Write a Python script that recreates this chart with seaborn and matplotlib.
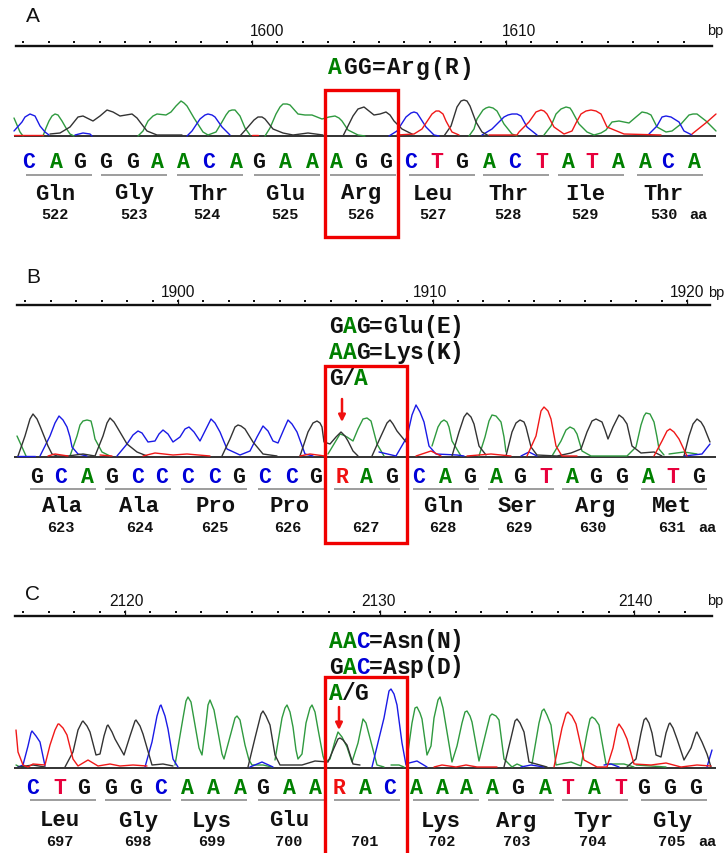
import numpy as np
import pandas as pd
import matplotlib
matplotlib.use("Agg")
import matplotlib.pyplot as plt
from matplotlib.patches import Rectangle
import seaborn as sns

# trace vertices: (scan position, signal height), one list per unbroken stretch
a_green = [
    [(14,18),(17,11),(20,4),(23,0)],
    [(43,0),(46,8),(49,15),(52,20),(55,22),(58,21),(62,15),(66,8),(70,2),(74,0)],
    [(138,0),(143,5),(148,15),(153,20),(157,22),(166,21),(171,24),(176,30),(181,35),(184,33),(187,30),(194,18),(203,4),(208,1),(216,4),(222,14),(226,21),(229,25),(232,26),(235,26),(240,20),(245,8),(250,1)],
    [(265,0),(270,8),(276,22),(280,29),(283,32),(287,32),(290,31),(298,22),(305,21),(312,21),(322,17),(329,19),(335,20),(339,18),(342,15),(348,6),(358,1),(365,0)],
    [(469,0),(474,7),(477,17),(483,26),(486,28),(489,29),(493,28),(497,25),(504,12),(512,2),(517,0)],
    [(544,1),(551,10),(556,22),(561,27),(566,29),(570,28),(572,25),(579,12),(587,4),(594,1),(601,3),(606,6),(612,14),(619,15),(629,13),(636,19),(642,24),(647,23),(651,21),(657,9),(666,4),(672,5),(681,12),(689,21),(693,22),(697,22),(706,15),(716,5)],
]
a_blue = [
    [(14,5),(22,14),(25,19),(30,22),(35,20),(40,10),(45,4),(49,1)],
    [(75,1),(83,3),(90,2),(92,0)],
    [(187,0),(192,5),(200,17),(205,21),(208,22),(212,21),(215,19),(222,9),(230,1)],
    [(389,0),(397,5),(406,19),(411,23),(414,24),(417,23),(419,20),(426,9),(434,1),(439,0)],
    [(482,1),(492,7),(504,19),(508,21),(512,22),(517,22),(521,20),(527,9),(537,1)],
    [(649,2),(657,10),(662,19),(666,20),(671,19),(679,14),(684,5),(692,1)],
]
a_black = [
    [(50,2),(60,3),(70,9),(78,19),(83,20),(93,15),(100,20),(107,26),(113,24),(120,20),(126,21),(132,22),(137,18),(140,14),(147,5),(157,1),(182,1)],
    [(240,0),(248,9),(254,16),(258,19),(262,19),(265,17),(273,7),(283,3),(293,1),(308,3),(323,1)],
    [(343,0),(353,20),(358,27),(364,29),(369,25),(374,21),(380,22),(386,24),(390,21),(394,15),(402,7),(412,2)],
    [(444,0),(451,10),(457,29),(461,35),(464,36),(467,35),(470,30),(476,14),(482,4),(489,0)],
]
a_red = [
    [(14,1),(43,1)],
    [(252,1),(258,1)],
    [(397,1),(414,2),(422,7),(432,22),(436,25),(439,25),(443,22),(446,15),(452,4),(459,1)],
    [(489,1),(517,1),(519,4),(529,14),(536,24),(541,26),(544,25),(547,22),(554,9),(564,2),(572,5),(576,13),(581,22),(586,25),(591,26),(596,25),(601,22),(607,9),(624,2),(661,1)],
    [(692,2),(697,6),(707,14),(716,22)],
]

b_green = [
    [(17,21),(22,10),(26,1)],
    [(70,1),(77,21),(80,32),(83,36),(87,37),(91,36),(93,28),(95,18),(102,5),(110,1)],
    [(328,3),(340,23),(343,22),(347,20),(353,16),(358,28),(363,38),(367,39),(371,36),(377,13),(384,1)],
    [(432,11),(438,30),(441,35),(444,37),(447,35),(449,30),(452,16),(461,1)],
    [(479,1),(485,20),(489,36),(492,42),(496,41),(501,35),(504,20),(506,5)],
    [(552,1),(561,16),(566,27),(570,30),(574,28),(577,23),(582,6),(591,1),(627,1),(636,10),(641,32),(644,41),(646,44),(650,43),(654,35),(657,20),(659,8),(664,2)],
    [(669,3),(684,5),(697,3)],
]
b_blue = [
    [(17,1),(35,1)],
    [(40,1),(50,21),(55,34),(59,41),(63,37),(67,30),(70,20),(72,10),(78,3),(87,1)],
    [(117,1),(127,13),(133,22),(138,26),(142,24),(148,15),(155,16),(159,23),(163,27),(168,23),(173,15),(180,20),(185,28),(189,30),(194,25),(200,16),(206,28),(211,38),(215,34),(220,25),(227,8),(240,2),(250,6),(257,20),(263,31),(268,26),(273,16),(278,14),(284,28),(288,37),(292,33),(297,25),(305,3),(313,1)],
    [(379,5),(396,1),(407,20),(412,42),(416,52),(420,45),(424,35),(429,11),(436,3),(457,2),(464,1)],
    [(521,1),(529,5),(537,1)],
    [(684,1),(702,3),(710,13)],
]
b_black = [
    [(18,1),(25,21),(30,38),(33,43),(37,38),(40,31),(48,11),(52,3),(57,1),(68,1),(83,3),(95,1),(103,21),(107,34),(110,39),(114,35),(117,30),(127,13),(137,5),(147,1)],
    [(222,1),(230,18),(235,30),(238,32),(241,31),(245,28),(253,15),(263,3),(277,1)],
    [(300,1),(308,25),(313,34),(317,36),(320,34),(322,30),(324,15),(330,13),(336,20),(341,25),(345,21),(348,16),(353,6),(358,1)],
    [(372,1),(381,21),(387,34),(390,37),(393,33),(397,26),(406,15)],
    [(452,1),(459,25),(464,40),(467,44),(471,40),(474,33),(479,11),(486,2)],
    [(506,1),(512,25),(516,34),(520,37),(524,35),(526,30),(531,10),(537,2),(557,1),(571,4),(581,8),(587,25),(592,36),(596,38),(602,35),(605,27),(608,18),(613,30),(619,42),(623,39),(627,33),(632,11),(641,4),(654,5),(662,1)],
    [(684,1),(689,21),(693,33),(697,38),(701,35),(704,30),(710,15)],
]
b_red = [
    [(48,1),(55,3),(68,1)],
    [(100,2),(112,1)],
    [(143,1),(155,4),(173,2),(187,3),(210,1)],
    [(300,1),(310,3),(325,1)],
    [(416,1),(431,6),(441,1)],
    [(467,1),(491,3),(511,1)],
    [(527,1),(536,21),(541,46),(544,50),(548,46),(551,38),(556,11),(562,1),(577,1)],
    [(654,1),(662,16),(667,26),(670,28),(674,25),(679,18),(687,1)],
]

c_green = [
    [(16,3),(20,1)],
    [(175,3),(183,50),(186,67),(188,71),(191,66),(195,43),(199,20),(202,13),(206,45),(208,63),(210,68),(214,58),(218,36),(222,14),(224,9),(231,35),(235,50),(237,52),(240,48),(245,23),(249,8),(252,3),(263,3),(272,1)],
    [(275,8),(282,50),(285,60),(287,63),(290,56),(293,41),(296,18),(298,9),(302,14),(306,45),(310,60),(312,63),(315,56),(318,39),(323,12),(325,6),(330,9),(335,27),(338,36),(342,31),(347,21),(352,6),(358,25),(363,49),(366,45),(371,26),(377,3),(384,1)],
    [(391,3),(399,3),(404,1)],
    [(407,9),(412,45),(415,60),(417,61),(420,55),(422,49),(427,13),(431,22),(434,50),(438,68),(440,71),(443,60),(447,36),(452,6),(457,22),(462,45),(465,56),(467,57),(470,52),(472,46),(479,7),(487,40),(490,52),(492,54),(496,52),(499,48),(504,9),(512,1),(517,4),(524,1)],
    [(532,4),(539,45),(542,57),(544,59),(547,53),(551,43),(556,3),(571,6),(581,2),(587,35),(590,49),(592,51),(595,49),(599,43),(606,4),(624,4),(634,1)],
    [(636,3),(666,1)],
]
c_blue = [
    [(18,1),(23,3),(28,22),(31,35),(32,37),(36,32),(40,26),(45,2)],
    [(145,1),(152,26),(157,52),(160,62),(161,63),(165,52),(168,39),(173,9),(178,1)],
    [(250,1),(262,6),(273,1)],
    [(372,1),(384,50),(389,77),(391,79),(394,74),(397,63),(402,25),(406,3),(409,5),(417,7),(427,1)],
    [(521,1),(531,3),(544,1)],
    [(604,3),(611,4),(619,1)],
    [(707,1),(712,18)],
]
c_black = [
    [(18,1),(33,3),(45,1)],
    [(65,1),(73,16),(78,38),(82,46),(83,47),(87,42),(90,36),(96,13),(100,14),(104,32),(107,42),(108,43),(112,36),(115,29),(124,13),(130,32),(135,47),(136,48),(140,42),(143,34),(152,3),(163,4),(173,2)],
    [(248,1),(255,30),(261,54),(263,57),(266,52),(270,43),(275,13),(280,3),(290,3),(302,3),(315,7),(328,6),(334,20),(338,29),(340,30),(343,28),(347,23),(353,4),(360,3)],
    [(504,1),(511,30),(515,47),(517,49),(520,45),(524,36),(529,6),(547,1)],
    [(627,1),(636,9),(641,35),(644,48),(646,50),(649,45),(652,35),(656,13),(661,11),(666,35),(669,44),(670,45),(673,40),(677,29),(684,8),(691,20),(696,35),(697,36),(702,26),(707,14),(711,1)],
]
c_red = [
    [(16,38),(18,16),(23,3),(28,1),(33,4),(45,3),(50,23),(55,38),(58,44),(59,44),(63,40),(67,33),(73,9),(78,2),(88,8),(98,2),(110,4),(120,2),(133,3),(147,2)],
    [(434,1),(442,3),(456,1),(466,3),(477,1),(487,1),(497,1)],
    [(554,1),(562,40),(566,54),(568,56),(572,52),(576,44),(584,8),(597,1),(607,1),(613,20),(617,40),(619,44),(623,38),(627,29),(634,4),(651,3),(666,5),(681,1),(697,3),(711,2)],
]

a_bases = "CAGGGAACAGAAAGGCTGACTATAACA"
a_base_x = [29,56,80,106,133,157,183,209,236,259,285,312,336,361,386,411,437,462,489,515,542,568,592,618,645,668,694]
b_bases = "GCAGCCCCGCCGRAGCAGAGTAGGATG"
b_base_x = [37,61,87,112,138,162,188,215,239,265,292,316,342,366,392,419,445,470,496,520,546,572,596,622,648,673,699]
c_bases = "CTGGGCAAAGAARACAAAAGATATGGG"
c_base_x = [33,60,84,111,136,161,187,213,240,263,289,315,339,365,390,416,442,466,492,518,545,568,594,621,644,670,696]

a_aa = ["Gln","Gly","Thr","Glu","Arg","Leu","Thr","Ile","Thr"]
a_aa_x = [55,134,208,285,361,433,508,585,663]
a_num = [522,523,524,525,526,527,528,529,530]
a_num_x = [55,134,207,285,361,433,508,585,664]
a_rule_x = [26,101,177,254,330,409,483,558,637]

b_aa = ["Ala","Ala","Pro","Pro","","Gln","Ser","Arg","Met"]
b_aa_x = [62,139,216,290,366,443,518,595,672]
b_num = [623,624,625,626,627,628,629,630,631]
b_num_x = [61,140,215,288,366,443,519,593,672]
b_rule_x = [30,105,181,258,334,413,488,562,641]

c_aa = ["Leu","Gly","Lys","Glu","","Lys","Arg","Tyr","Gly"]
c_aa_x = [60,138,212,289,365,441,516,593,672]
c_num = [697,698,699,700,701,702,703,704,705]
c_num_x = [60,138,212,289,365,442,517,593,672]
c_rule_x = [30,105,181,258,334,413,488,562,641]

GREEN = "#008000"
TRACE_COLORS = {"A": "#2f9a3f", "C": "#1a1ae6", "G": "#333333", "T": "#f01818"}
LETTER_COLORS = {"A": GREEN, "C": "#0000d8", "G": "#111111", "T": "#e8003c", "R": "#f01010"}
MONO = "Liberation Mono"

sns.set_theme(style="white")
plt.rcParams["font.family"] = ["Liberation Sans", "DejaVu Sans"]

W, H = 727, 854
fig = plt.figure(figsize=(W / 100, H / 100), dpi=100)


def make_panel(left, right, top, bottom, base, tick_px, tick_bp, scale):
    ax = fig.add_axes([left / W, 1 - bottom / H, (right - left) / W, (bottom - top) / H])
    ax.patch.set_alpha(0)
    for s in ["left", "right", "bottom"]:
        ax.spines[s].set_visible(False)
    ax.spines["top"].set_linewidth(1.7)
    ax.spines["top"].set_color("#111111")
    ax.set_yticks([])
    return ax


def draw_traces(ax, to_bp, channels):
    rows = []
    for base, segs in channels.items():
        for i, seg in enumerate(segs):
            for x, h in seg:
                rows.append({"bp": to_bp(x), "signal": h, "base": base, "seg": f"{base}{i}"})
    df = pd.DataFrame(rows)
    sns.lineplot(data=df, x="bp", y="signal", hue="base", units="seg", estimator=None,
                 sort=False, palette=TRACE_COLORS, legend=False, linewidth=1.0, ax=ax)
    for ln in ax.lines:
        ln.set_clip_on(False)
    ax.set_xlabel("")
    ax.set_ylabel("")


def panel(letter, letter_y, left, right, top, bottom, base, tick_px, tick_bp, scale,
          dots, majors, major_labels, label_y, bp_x, channels, bases, base_x, base_y,
          rule_x, rule_y, aa, aa_x, aa_y, num, num_x, num_y, aa_tag_x, box, headers,
          arrow=None):
    ax = make_panel(left, right, top, bottom, base, tick_px, tick_bp, scale)
    to_bp = lambda px: tick_bp + (px - tick_px) / scale
    to_y = lambda py: base - py

    fig.text(33 / W, 1 - letter_y / H, letter, fontsize=15, ha="center", va="center", color="#111111")

    # ruler
    ax.xaxis.tick_top()
    ax.set_xticks(majors)
    ax.set_xticklabels([])
    ax.tick_params(axis="x", length=4, width=0.9, color="#111111", top=True, bottom=False)
    sns.scatterplot(x=dots, y=[to_y(top - 4)] * len(dots), marker="s", s=2.2, color="#111111",
                    linewidth=0, clip_on=False, legend=False, ax=ax)
    for lab, lx in major_labels:
        ax.text(to_bp(lx), to_y(label_y), lab, fontsize=11.2, ha="center", va="center", color="#111111")
    ax.text(to_bp(bp_x), to_y(label_y), "bp", fontsize=10.5, ha="left", va="center", color="#111111")

    # baseline and traces
    ax.hlines(0, to_bp(14), to_bp(716), color="#222222", linewidth=1.3, clip_on=False)
    draw_traces(ax, to_bp, channels)

    # called bases, codon rules, amino acids
    for ch, x in zip(bases, base_x):
        ax.text(to_bp(x), to_y(base_y + 6.5), ch, family=MONO, weight="bold", fontsize=15.5,
                ha="center", va="baseline", color=LETTER_COLORS[ch])
    ax.hlines([to_y(rule_y)] * len(rule_x), [to_bp(x) for x in rule_x], [to_bp(x + 66) for x in rule_x],
              color="#8c8c8c", linewidth=1.2)
    for name, x in zip(aa, aa_x):
        ax.text(to_bp(x), to_y(aa_y + 6.5), name, family=MONO, weight="bold", fontsize=16,
                ha="center", va="baseline", color="#111111")
    for n, x in zip(num, num_x):
        ax.text(to_bp(x), to_y(num_y + 5), str(n), family=MONO, weight="bold", fontsize=11,
                ha="center", va="baseline", color="#111111")
    ax.text(to_bp(aa_tag_x), to_y(num_y + 5), "aa", family=MONO, weight="bold", fontsize=11,
            ha="center", va="baseline", color="#111111")

    # codon annotation, one character at a time because of the colours
    for text, mask, x0, y, adv in headers:
        for i, (ch, m) in enumerate(zip(text, mask)):
            ax.text(to_bp(x0 + i * adv), to_y(y + 6.5), ch, family=MONO, weight="bold", fontsize=16.5,
                    ha="center", va="baseline", color=GREEN if m == "g" else ("#0000d8" if m == "b" else "#111111"),
                    clip_on=False)

    # red box around the codon
    bx0, bx1, by0, by1 = box
    ax.add_patch(Rectangle((to_bp(bx0), to_y(by1)), to_bp(bx1) - to_bp(bx0), by1 - by0, fill=False,
                           edgecolor="#f00000", linewidth=2.4, zorder=6, clip_on=False))
    if arrow:
        ax_x, ay0, ay1 = arrow
        ax.annotate("", xy=(to_bp(ax_x), to_y(ay1)), xytext=(to_bp(ax_x), to_y(ay0)),
                    arrowprops=dict(arrowstyle="-|>", color="#f01010", linewidth=1.8,
                                    mutation_scale=10, shrinkA=0, shrinkB=0), zorder=6)

    # limits last, set_xticks and the seaborn calls may move them
    ax.set_xlim(to_bp(left), to_bp(right))
    ax.set_ylim(to_y(bottom), to_y(top))


panel("A", 16, 16, 712, 47, 250, 137, 252, 1600, 25.4,
      list(range(1591, 1618)), [1600, 1610],
      [("1600", 267), ("1610", 519)], 31, 707,
      {"A": a_green, "C": a_blue, "G": a_black, "T": a_red},
      a_bases, a_base_x, 161, a_rule_x, 176, a_aa, a_aa_x, 193, a_num, a_num_x, 214, 698,
      (325, 398, 91, 238),
      [("AGG=Arg(R)", "gkkkkkkkkk", 335, 68, 14.6)])

panel("B", 278, 17, 710, 306, 560, 458, 178, 1900, 25.45,
      list(range(1894, 1921)), [1900, 1910, 1920],
      [("1900", 178), ("1910", 430), ("1920", 687)], 293, 708,
      {"A": b_green, "C": b_blue, "G": b_black, "T": b_red},
      b_bases, b_base_x, 477, b_rule_x, 490, b_aa, b_aa_x, 506, b_num, b_num_x, 527, 707,
      (325, 407, 367, 544),
      [("GAG=Glu(E)", "kgkkkkkkkk", 336, 327, 13.4),
       ("AAG=Lys(K)", "ggkkkkkkkk", 336, 353, 13.4),
       ("G/A", "kkg", 336, 379, 12.5)],
      arrow=(342, 400, 423))

panel("C", 595, 15, 712, 617, 900, 769, 125, 2120, 25.45,
      list(range(2116, 2143)), [2120, 2130, 2140],
      [("2120", 126), ("2130", 378), ("2140", 635)], 601, 707,
      {"A": c_green, "C": c_blue, "G": c_black, "T": c_red},
      c_bases, c_base_x, 787, c_rule_x, 801, c_aa, c_aa_x, 820, c_num, c_num_x, 841, 707,
      (325, 407, 678, 900),
      [("AAC=Asn(N)", "ggbkkkkkkk", 336, 641, 13.4),
       ("GAC=Asp(D)", "kgbkkkkkkk", 336, 667, 13.4),
       ("A/G", "gkk", 336, 694, 12.5)],
      arrow=(339, 708, 731))

fig.savefig("out.png", dpi=100)
